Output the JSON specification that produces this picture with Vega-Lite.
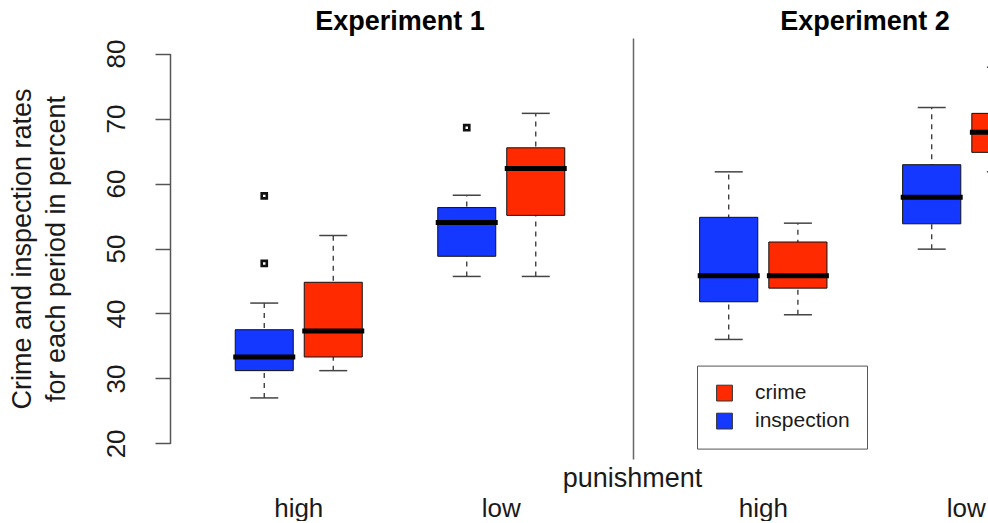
{
  "$schema": "https://vega.github.io/schema/vega-lite/v6.json",
  "background": "white",
  "padding": {"left": 8, "top": 8, "right": 0, "bottom": 0},
  "autosize": {"type": "pad"},
  "bounds": "flush",
  "spacing": 3,
  "config": {
    "font": "Liberation Sans",
    "view": {"stroke": null}
  },
  "datasets": {
    "stats": [
      {"experiment": "Experiment 1", "punishment": "high", "type": "inspection", "lower": 27.0, "q1": 31.2, "median": 33.3, "q3": 37.5, "upper": 41.6},
      {"experiment": "Experiment 1", "punishment": "high", "type": "crime", "lower": 31.2, "q1": 33.3, "median": 37.3, "q3": 44.8, "upper": 52.0},
      {"experiment": "Experiment 1", "punishment": "low", "type": "inspection", "lower": 45.7, "q1": 48.8, "median": 54.0, "q3": 56.3, "upper": 58.2},
      {"experiment": "Experiment 1", "punishment": "low", "type": "crime", "lower": 45.7, "q1": 55.1, "median": 62.3, "q3": 65.5, "upper": 70.8},
      {"experiment": "Experiment 2", "punishment": "high", "type": "inspection", "lower": 36.0, "q1": 41.8, "median": 45.8, "q3": 54.8, "upper": 61.8},
      {"experiment": "Experiment 2", "punishment": "high", "type": "crime", "lower": 39.8, "q1": 43.9, "median": 45.8, "q3": 51.0, "upper": 53.9},
      {"experiment": "Experiment 2", "punishment": "low", "type": "inspection", "lower": 49.9, "q1": 53.8, "median": 57.9, "q3": 62.9, "upper": 71.7},
      {"experiment": "Experiment 2", "punishment": "low", "type": "crime", "lower": 61.8, "q1": 64.8, "median": 67.9, "q3": 70.8, "upper": 77.9}
    ],
    "outliers": [
      {"experiment": "Experiment 1", "punishment": "high", "type": "inspection", "value": 58.1},
      {"experiment": "Experiment 1", "punishment": "high", "type": "inspection", "value": 47.7},
      {"experiment": "Experiment 1", "punishment": "low", "type": "inspection", "value": 68.6}
    ]
  },
  "resolve": {
    "scale": {"x": "independent", "y": "independent", "xOffset": "independent", "color": "independent"},
    "axis": {"x": "independent", "y": "independent"},
    "legend": {"color": "independent"}
  },
  "hconcat": [
    {
      "width": 460,
      "height": 421,
      "title": {"text": "Experiment 1", "fontSize": 27, "fontWeight": "bold", "color": "black", "anchor": "middle", "offset": 2},
      "encoding": {
        "x": {
          "field": "punishment", "type": "nominal",
          "scale": {"domain": ["high", "low"], "paddingInner": 0, "paddingOuter": 0.1358},
          "axis": {
            "title": "punishment", "titleFontSize": 27, "titleFontWeight": "normal", "titleColor": "#1a1a1a",
            "titleX": 462, "titleY": 27.4, "titleAlign": "center", "titleBaseline": "alphabetic",
            "labelAngle": 0, "labelFontSize": 26, "labelColor": "#1a1a1a", "labelBaseline": "alphabetic", "labelPadding": 57,
            "domain": false, "ticks": false, "grid": false
          }
        },
        "xOffset": {
          "field": "type", "type": "nominal",
          "scale": {"domain": ["inspection", "crime"], "paddingInner": 0.1594, "paddingOuter": 0.547}
        },
        "y": {
          "type": "quantitative",
          "scale": {"domain": [17.6, 82.4], "nice": false, "zero": false},
          "axis": {
            "values": [20, 30, 40, 50, 60, 70, 80],
            "title": ["Crime and inspection rates", "for each period in percent"],
            "titleFontSize": 27, "titleFontWeight": "normal", "titleColor": "#1a1a1a", "titleLineHeight": 34, "titlePadding": 33,
            "labelFontSize": 26, "labelAngle": -90, "labelAlign": "center", "labelBaseline": "alphabetic", "labelPadding": 31, "labelColor": "#1a1a1a",
            "tickSize": 15, "tickColor": "#555", "tickWidth": 1.5,
            "domainColor": "#555", "domainWidth": 1.5, "domainDash": [0, 15.6, 389.8, 100],
            "grid": false, "labelOverlap": false, "labelFlush": false
          }
        }
      },
      "layer": [
        {
          "data": {"name": "stats"},
          "transform": [{"filter": "datum.experiment == 'Experiment 1'"}],
          "mark": {"type": "rule", "color": "#333", "strokeWidth": 1.3, "strokeDash": [5, 5]},
          "encoding": {"y": {"field": "lower"}, "y2": {"field": "upper"}}
        },
        {
          "data": {"name": "stats"},
          "transform": [{"filter": "datum.experiment == 'Experiment 1'"}],
          "mark": {"type": "tick", "color": "#444", "opacity": 1, "thickness": 1.5, "size": 28},
          "encoding": {"y": {"field": "lower"}}
        },
        {
          "data": {"name": "stats"},
          "transform": [{"filter": "datum.experiment == 'Experiment 1'"}],
          "mark": {"type": "tick", "color": "#444", "opacity": 1, "thickness": 1.5, "size": 28},
          "encoding": {"y": {"field": "upper"}}
        },
        {
          "data": {"name": "stats"},
          "transform": [{"filter": "datum.experiment == 'Experiment 1'"}],
          "mark": {"type": "bar", "stroke": "#111", "strokeWidth": 1, "opacity": 1},
          "encoding": {
            "y": {"field": "q1"},
            "y2": {"field": "q3"},
            "color": {"field": "type", "type": "nominal", "scale": {"domain": ["crime", "inspection"], "range": ["#ff2a00", "#1438ff"]}, "legend": null}
          }
        },
        {
          "data": {"name": "stats"},
          "transform": [{"filter": "datum.experiment == 'Experiment 1'"}],
          "mark": {"type": "tick", "color": "black", "opacity": 1, "thickness": 5, "size": 62},
          "encoding": {"y": {"field": "median"}}
        },
        {
          "data": {"name": "outliers"},
          "transform": [{"filter": "datum.experiment == 'Experiment 1'"}],
          "mark": {"type": "point", "shape": "square", "filled": false, "opacity": 1, "size": 26, "strokeWidth": 2.6, "color": "#111"},
          "encoding": {"y": {"field": "value"}}
        }
      ]
    },
    {
      "width": 359,
      "height": 421,
      "title": {"text": "Experiment 2", "fontSize": 27, "fontWeight": "bold", "color": "black", "anchor": "middle", "dx": 52.5, "offset": 2},
      "encoding": {
        "x": {
          "field": "punishment", "type": "nominal",
          "scale": {"domain": ["high", "low"], "range": [28.8, 434.8], "paddingInner": 0, "paddingOuter": 0},
          "axis": {
            "title": null,
            "labelAngle": 0, "labelFontSize": 26, "labelColor": "#1a1a1a", "labelBaseline": "alphabetic", "labelPadding": 57,
            "domain": false, "ticks": false, "grid": false
          }
        },
        "xOffset": {
          "field": "type", "type": "nominal",
          "scale": {"domain": ["inspection", "crime"], "paddingInner": 0.1594, "paddingOuter": 0.547}
        },
        "y": {
          "type": "quantitative",
          "scale": {"domain": [17.6, 82.4], "nice": false, "zero": false},
          "axis": {
            "domain": true, "domainColor": "#666", "domainWidth": 1.5,
            "ticks": false, "labels": false, "title": null, "grid": false
          }
        }
      },
      "layer": [
        {
          "data": {"name": "stats"},
          "transform": [{"filter": "datum.experiment == 'Experiment 2'"}],
          "mark": {"type": "rule", "color": "#333", "strokeWidth": 1.3, "strokeDash": [5, 5], "clip": true},
          "encoding": {"y": {"field": "lower"}, "y2": {"field": "upper"}}
        },
        {
          "data": {"name": "stats"},
          "transform": [{"filter": "datum.experiment == 'Experiment 2'"}],
          "mark": {"type": "tick", "color": "#444", "opacity": 1, "thickness": 1.5, "size": 28, "clip": true},
          "encoding": {"y": {"field": "lower"}}
        },
        {
          "data": {"name": "stats"},
          "transform": [{"filter": "datum.experiment == 'Experiment 2'"}],
          "mark": {"type": "tick", "color": "#444", "opacity": 1, "thickness": 1.5, "size": 28, "clip": true},
          "encoding": {"y": {"field": "upper"}}
        },
        {
          "data": {"name": "stats"},
          "transform": [{"filter": "datum.experiment == 'Experiment 2'"}],
          "mark": {"type": "bar", "stroke": "#111", "strokeWidth": 1, "opacity": 1, "clip": true},
          "encoding": {
            "y": {"field": "q1"},
            "y2": {"field": "q3"},
            "color": {
              "field": "type", "type": "nominal",
              "scale": {"domain": ["crime", "inspection"], "range": ["#ff2a00", "#1438ff"]},
              "legend": {
                "orient": "none", "legendX": 64, "legendY": 327.6, "title": null, "direction": "vertical",
                "strokeColor": "#555", "padding": 17, "fillColor": "white",
                "symbolType": "square", "symbolSize": 250, "symbolStrokeColor": "#333", "symbolStrokeWidth": 1,
                "labelFontSize": 21, "labelColor": "#1a1a1a", "labelOffset": 20, "rowPadding": 6
              }
            }
          }
        },
        {
          "data": {"name": "stats"},
          "transform": [{"filter": "datum.experiment == 'Experiment 2'"}],
          "mark": {"type": "tick", "color": "black", "opacity": 1, "thickness": 5, "size": 62, "clip": true},
          "encoding": {"y": {"field": "median"}}
        }
      ]
    }
  ]
}
